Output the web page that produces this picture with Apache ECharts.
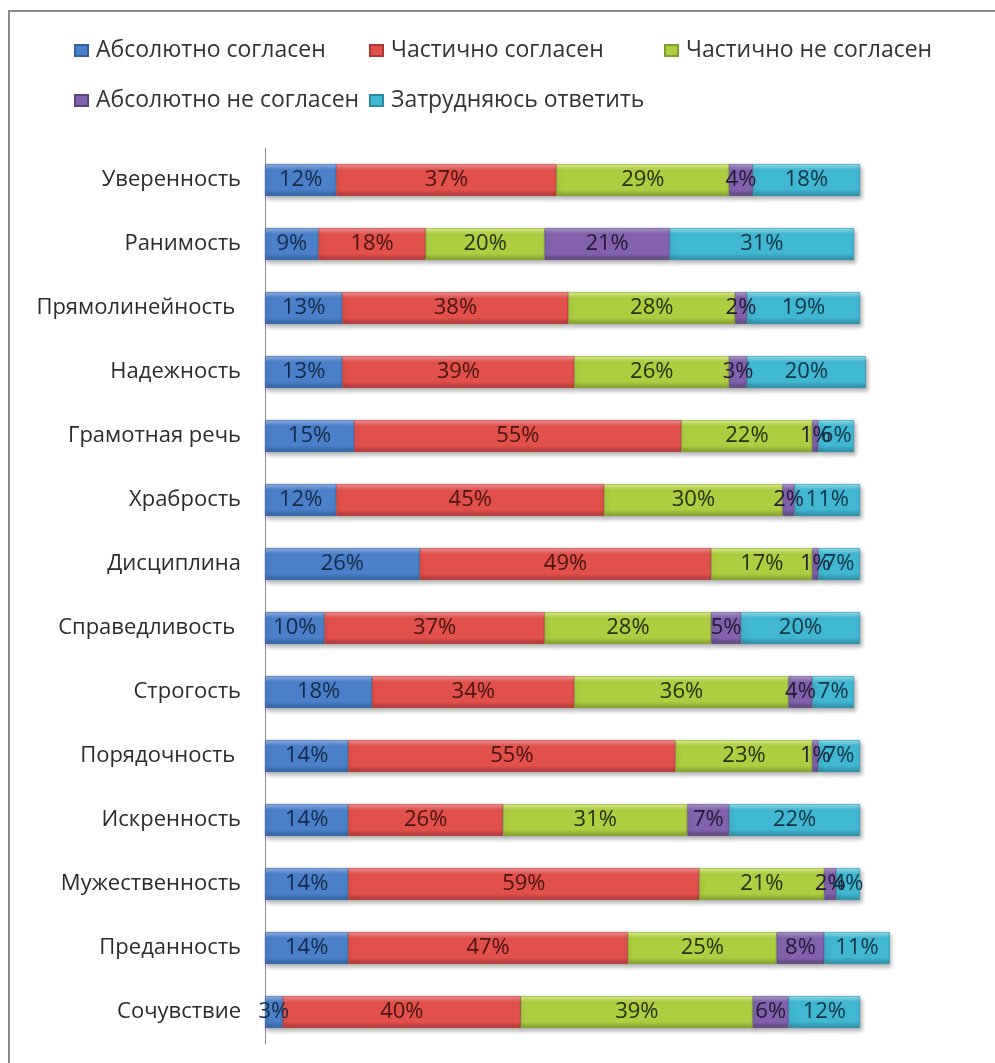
<!DOCTYPE html>
<html>
<head>
<meta charset="utf-8">
<script src="https://cdn.jsdelivr.net/npm/echarts@6/dist/echarts.min.js"></script>
<style>
html,body{margin:0;padding:0;background:#fff;}
#chart{width:995px;height:1063px;}
</style>
</head>
<body>
<div id="chart"></div>
<script>
const categories = ['Уверенность','Ранимость','Прямолинейность ','Надежность','Грамотная речь','Храбрость','Дисциплина','Справедливость ','Строгость','Порядочность ','Искренность','Мужественность','Преданность','Сочувствие'];
const seriesNames = ['Абсолютно согласен','Частично согласен','Частично не согласен','Абсолютно не согласен','Затрудняюсь ответить'];
const absAgree    = [12, 9, 13, 13, 15, 12, 26, 10, 18, 14, 14, 14, 14, 3];
const partAgree   = [37, 18, 38, 39, 55, 45, 49, 37, 34, 55, 26, 59, 47, 40];
const partDisagree= [29, 20, 28, 26, 22, 30, 17, 28, 36, 23, 31, 21, 25, 39];
const absDisagree = [4, 21, 2, 3, 1, 2, 1, 5, 4, 1, 7, 2, 8, 6];
const hardToSay   = [18, 31, 19, 20, 6, 11, 7, 20, 7, 7, 22, 4, 11, 12];
const allValues = [absAgree, partAgree, partDisagree, absDisagree, hardToSay];

const palette = [
  {top:'#8DB3E6', mid:'#4A80C8', bot:'#31609C', text:'#152a48'},
  {top:'#F49592', mid:'#E2504C', bot:'#A93633', text:'#4a1412'},
  {top:'#DCEE8E', mid:'#ADCE40', bot:'#809E2E', text:'#26300a'},
  {top:'#AE96CF', mid:'#8262AD', bot:'#5C4580', text:'#241834'},
  {top:'#8EDDEE', mid:'#40B7D3', bot:'#2A89A2', text:'#0d3440'}
];
function grad(p){
  return new echarts.graphic.LinearGradient(0,0,0,1,[
    {offset:0, color:p.top},
    {offset:0.2, color:p.mid},
    {offset:0.8, color:p.mid},
    {offset:1, color:p.bot}
  ]);
}
const FONT = "'Open Sans', 'Noto Sans', sans-serif";

const series = seriesNames.map((name,i)=>({
  name: name,
  type: 'bar',
  stack: 'total',
  barWidth: '50%',
  data: allValues[i],
  itemStyle: {
    color: grad(palette[i]),
    borderColor: palette[i].bot,
    borderWidth: 0.6,
    shadowColor: 'rgba(0,0,0,0.28)',
    shadowBlur: 4,
    shadowOffsetX: 2,
    shadowOffsetY: 3
  },
  label: {
    show: true,
    position: 'inside',
    formatter: '{c}%',
    color: palette[i].text,
    fontSize: 22,
    fontFamily: FONT
  },
  emphasis: {disabled: true}
}));

const legendPos = [
  {left:74, top:39},
  {left:369, top:39},
  {left:664, top:39},
  {left:74, top:89},
  {left:369, top:89}
];
const legends = seriesNames.map((n,i)=>({
  data:[n],
  left: legendPos[i].left,
  top: legendPos[i].top,
  padding: 0,
  icon: 'rect',
  itemWidth: 13,
  itemHeight: 11,
  textStyle: {fontSize: 23, color:'#333', fontFamily: FONT, padding:[0,0,0,3]},
  selectedMode: false
}));

const chart = echarts.init(document.getElementById('chart'));
chart.setOption({
  animation: false,
  backgroundColor: '#fff',
  graphic: [{
    type: 'rect',
    shape: {x: 9, y: 11, width: 1000, height: 1100},
    style: {fill: 'none', stroke: '#8a8a8a', lineWidth: 2},
    silent: true
  }],
  legend: legends,
  grid: {left: 265, right: 16, top: 148, bottom: 19, containLabel: false},
  xAxis: {
    type: 'value', min: 0, max: 120, show: false
  },
  yAxis: {
    type: 'category',
    data: categories,
    inverse: true,
    axisLine: {show: true, lineStyle: {color: '#8c8c8c', width: 1}},
    axisTick: {show: false},
    axisLabel: {fontSize: 22, color: '#2b2b2b', fontFamily: FONT, margin: 24}
  },
  series: series
});
</script>
</body>
</html>
